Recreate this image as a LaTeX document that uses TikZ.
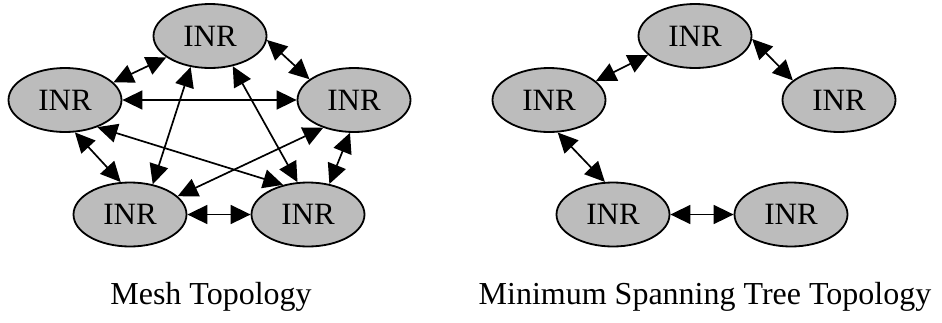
\documentclass[tikz,border=0pt]{standalone}
\usepackage{fontspec}
\setmainfont{Liberation Serif}
\usetikzlibrary{arrows.meta,shapes.geometric}
\definecolor{inrfill}{RGB}{188,188,188}
\begin{document}
\begin{tikzpicture}[x=1pt,y=-1pt,
  inr/.style={ellipse, draw=black, line width=1.8pt, fill=inrfill,
    minimum width=113pt, minimum height=64pt, inner sep=0pt,
    font=\fontsize{31}{35}\selectfont},
  link/.style={line width=1.7pt,
    {Triangle[length=20pt,width=19pt]}-{Triangle[length=20pt,width=19pt]}},
  caption/.style={anchor=base, inner sep=0pt, font=\fontsize{32}{38}\selectfont}]
\useasboundingbox (0,0) rectangle (942,322);

% ---- mesh topology ----
\node[inr] (mt)  at (210,36)  {INR};
\node[inr] (ml)  at (65,100)  {INR};
\node[inr] (mr)  at (354,100) {INR};
\node[inr] (mbl) at (130,214.5) {INR};
\node[inr] (mbr) at (308,214.5) {INR};

\draw[link] (mt.206)  -- (ml.20);
\draw[link] (mt.-4)   -- (mr.155);
\draw[link] (ml.0)    -- (mr.180);
\draw[link] (mt.-122) -- (mbl.53);
\draw[link] (mt.-53)  -- (mbr.108);
\draw[link] (ml.-73)  -- (mbl.106);
\draw[link] (ml.-40)  -- (mbr.130);
\draw[link] (mr.-138) -- (mbl.21);
\draw[link] (mr.-97)  -- (mbr.55);
\draw[link] (mbl.0)   -- (mbr.180);

\node[caption] (meshcap) at (211,304) {Mesh Topology};

% ---- minimum spanning tree topology ----
\node[inr] (st)  at (695,36)  {INR};
\node[inr] (sl)  at (549,100) {INR};
\node[inr] (sr)  at (839,100) {INR};
\node[inr] (sbl) at (613,214.5) {INR};
\node[inr] (sbr) at (791,214.5) {INR};

\draw[link] (st.202) -- (sl.22);
\draw[link] (st.-3)  -- (sr.157);
\draw[link] (sl.-75) -- (sbl.104);
\draw[link] (sbl.0)  -- (sbr.180);

\node[caption] (mstcap) at (705,304) {Minimum Spanning Tree Topology};
\end{tikzpicture}
\end{document}
